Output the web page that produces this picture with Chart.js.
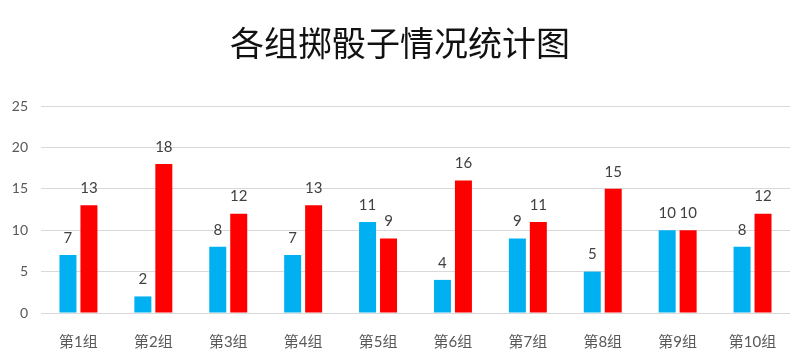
<!DOCTYPE html>
<html><head><meta charset="utf-8">
<script src="https://cdn.jsdelivr.net/npm/chart.js@4/dist/chart.umd.min.js"></script>
<style>html,body{margin:0;padding:0;background:#fff;}canvas{display:block;}</style>
</head><body>
<canvas id="c" width="800" height="360"></canvas>
<script>
const titleText = "各组掷骰子情况统计图";
const categories = ["第1组","第2组","第3组","第4组","第5组","第6组","第7组","第8组","第9组","第10组"];
const seriesA = [7,2,8,7,11,4,9,5,10,8];
const seriesB = [13,18,12,13,9,16,11,15,10,12];
const yTicks = [0,5,10,15,20,25];

const labelPlugin = {
  id: 'valueLabels',
  afterDatasetsDraw(chart) {
    const ctx = chart.ctx;
    ctx.save();
    ctx.font = '15px Lato, "Noto Sans CJK SC", sans-serif';
    ctx.fillStyle = '#404040';
    ctx.textAlign = 'center';
    ctx.textBaseline = 'middle';
    chart.data.datasets.forEach((ds, i) => {
      chart.getDatasetMeta(i).data.forEach((el, j) => {
        ctx.fillText(String(ds.data[j]), el.x, el.y - 17);
      });
    });
    ctx.restore();
  }
};
const titlePlugin = {
  id: 'bigTitle',
  afterDraw(chart) {
    const ctx = chart.ctx;
    ctx.save();
    ctx.font = '34px "Noto Sans CJK SC", sans-serif';
    ctx.fillStyle = '#111';
    ctx.textAlign = 'center';
    ctx.textBaseline = 'middle';
    ctx.fillText(titleText, 400, 43);
    ctx.restore();
  }
};

new Chart(document.getElementById('c'), {
  type: 'bar',
  data: {
    labels: categories,
    datasets: [
      { data: seriesA, backgroundColor: '#00B0F0', borderWidth: 0 },
      { data: seriesB, backgroundColor: '#FF0000', borderWidth: 0 }
    ]
  },
  options: {
    responsive: false,
    animation: false,
    events: [],
    layout: { padding: { top: 106, right: 10, bottom: 0, left: 0 } },
    datasets: { bar: { categoryPercentage: 0.56, barPercentage: 0.81 } },
    plugins: { legend: { display: false }, title: { display: false }, tooltip: { enabled: false } },
    scales: {
      x: {
        grid: { display: false },
        border: { display: false },
        ticks: { color: '#595959', font: { size: 15, family: 'Lato, "Noto Sans CJK SC", sans-serif' }, padding: 12, maxRotation: 0 },
        afterFit(a) { a.height = 47; }
      },
      y: {
        min: 0, max: 25,
        afterBuildTicks(a) { a.ticks = yTicks.map(v => ({ value: v })); },
        grid: { color: '#D9D9D9', drawTicks: false, lineWidth: 1 },
        border: { display: false },
        ticks: { color: '#595959', font: { size: 14, family: 'Lato, "Noto Sans CJK SC", sans-serif' }, padding: 13 },
        afterFit(a) { a.width = 41; }
      }
    }
  },
  plugins: [labelPlugin, titlePlugin]
});
</script>
</body></html>
